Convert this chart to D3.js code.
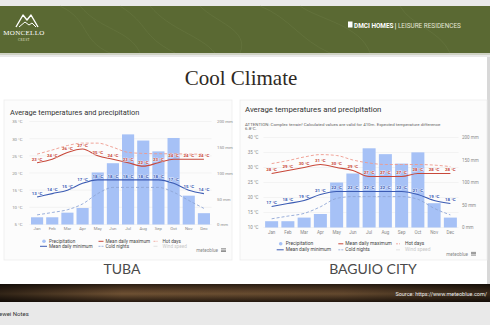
<!DOCTYPE html>
<html><head><meta charset="utf-8">
<script src="https://cdn.jsdelivr.net/npm/d3@7"></script>
<style>
html,body{margin:0;padding:0;background:#e8e8e8;}
svg{display:block;}
text{font-family:Roboto,"Noto Sans",sans-serif;}
</style></head>
<body>
<script>
// ---------- DATA ----------
const months = ["Jan","Feb","Mar","Apr","May","Jun","Jul","Aug","Sep","Oct","Nov","Dec"];

const tubaPrecip = [14,14,23,32,101,119,175,163,142,168,56,22];
const tubaMax    = [23,24,26,27,25,24,23,22,23,24,24,24];
const tubaMin    = [13,14,15,17,18,18,18,18,18,17,15,14];
const tubaHot    = [25.5,26.7,28,28.7,28.7,27.5,26,25.7,25.6,25.6,25.5,25.5];
const tubaCold   = [7.8,8.5,9.3,11,14,15.8,15.8,15.8,15.8,14.4,12,9.7];
const tubaTempTicks = [5,10,15,20,25,30,35];

const baguioPrecip = [14,14,22,30,100,120,176,163,142,167,54,22];
const baguioMax    = [28,29,30,31,30,29,27,27,27,28,28,28];
const baguioMin    = [17,18,19,21,22,22,22,22,22,21,19,18];
const baguioHot    = [31.3,32.3,33.5,34.3,34,32.5,31.5,31,31,31,30.8,30.3];
const baguioCold   = [12.9,13.8,14.7,16.9,19.7,20.3,20.3,20.3,20.3,19.4,16.4,14.2];
const baguioTempTicks = [10,15,20,25,30,35,40];

const precipTicks = [0,50,100,150,200];
const legendLabels = ["Precipitation","Mean daily minimum","Mean daily maximum","Cold nights","Hot days","Wind speed"];

// ---------- STYLE ----------
const C = {
  bar:"#a6c1f6", max:"#c8483a", min:"#3b5bb3", hot:"#ee9a8d", cold:"#8ea6d6",
  grid:"#ececec", tick:"#8a8a8a"
};

const svg = d3.select("body").append("svg").attr("width",490).attr("height",325);
const defs = svg.append("defs");
const wood = defs.append("linearGradient").attr("id","wood").attr("x1",0).attr("y1",0).attr("x2",0).attr("y2",1);
[["0%","#2b1e13"],["35%","#5a4029"],["55%","#6e5133"],["100%","#24180f"]].forEach(s=>wood.append("stop").attr("offset",s[0]).attr("stop-color",s[1]));
const woodH = defs.append("linearGradient").attr("id","woodh");
[["0%","#000",0.55],["25%","#000",0.0],["70%","#000",0.1],["100%","#000",0.5]].forEach(s=>woodH.append("stop").attr("offset",s[0]).attr("stop-color",s[1]).attr("stop-opacity",s[2]));

// page background
svg.append("rect").attr("width",490).attr("height",325).attr("fill","#e9e9e9");
// banner
svg.append("rect").attr("x",0).attr("y",6).attr("width",490).attr("height",47).attr("fill","#5a6933");
const tex = svg.append("g").attr("fill","none").attr("stroke","#71804a").attr("stroke-width",0.6).attr("opacity",0.6);
["M60,6 C90,20 80,40 110,53","M120,6 C150,25 140,35 175,53","M200,6 C215,22 250,30 240,53","M260,6 C290,18 300,40 330,53",
 "M150,6 C170,30 200,35 215,53","M300,6 C320,20 360,25 370,53","M80,6 C100,30 130,30 140,53","M400,6 C410,25 440,30 450,53"].forEach(p=>tex.append("path").attr("d",p));
svg.append("rect").attr("x",0).attr("y",53).attr("width",490).attr("height",2).attr("fill","#cfd2c4");

// logo
const logo = svg.append("g").attr("fill","none").attr("stroke","#fff").attr("stroke-width",1.4).attr("stroke-linejoin","round");
logo.append("path").attr("d","M16,27 L23,15 L27,20 L31,15 L38,27");
logo.append("path").attr("d","M19,27 L25,22 L29,25 L32,23 L36,27").attr("stroke-width",1);
svg.append("text").attr("x",24).attr("y",35).attr("text-anchor","middle").attr("fill","#fff")
  .style("font-family","'Liberation Serif',serif").style("font-size","7px").attr("letter-spacing",0.3).text("MONCELLO");
svg.append("text").attr("x",24).attr("y",41).attr("text-anchor","middle").attr("fill","#e8ead8")
  .style("font-family","'Liberation Serif',serif").style("font-size","3px").attr("letter-spacing",0.5).text("CREST");
svg.append("rect").attr("x",348).attr("y",21.5).attr("width",4.5).attr("height",6).attr("fill","#fff");
const dm = svg.append("text").attr("x",354).attr("y",27.5).attr("fill","#fff").style("font-size","6.4px");
dm.append("tspan").style("font-weight","bold").text("DMCI HOMES");
dm.append("tspan").attr("dx",1).style("font-size","8px").text("|");
dm.append("tspan").attr("dx",1.5).attr("fill","#e4e7d6").text("LEISURE RESIDENCES");

// white slide panel
svg.append("rect").attr("x",0).attr("y",57).attr("width",487).attr("height",227).attr("fill","#fff");
svg.append("rect").attr("x",487).attr("y",57).attr("width",3).attr("height",227).attr("fill","#d8d8d8");

svg.append("text").attr("x",241).attr("y",85).attr("text-anchor","middle").attr("fill","#2f2a24")
  .style("font-family","'Liberation Serif',serif").style("font-size","21px").text("Cool Climate");

// wood band
svg.append("rect").attr("x",0).attr("y",284).attr("width",490).attr("height",18).attr("fill","url(#wood)");
svg.append("rect").attr("x",0).attr("y",284).attr("width",490).attr("height",18).attr("fill","url(#woodh)");
svg.append("text").attr("x",487).attr("y",295.5).attr("text-anchor","end").attr("fill","#eee").style("font-size","5.5px")
  .text("Source: https://www.meteoblue.com/");
svg.append("text").attr("x",-1).attr("y",316).attr("fill","#333").style("font-size","6px").text("ewei Notes");

// ---------- CHART ----------
function drawChart(cfg){
  const g = svg.append("g");
  g.append("rect").attr("x",cfg.card[0]).attr("y",cfg.card[1]).attr("width",cfg.card[2]).attr("height",cfg.card[3])
    .attr("fill","#fcfcfc").attr("stroke","#ededed").attr("stroke-width",0.8);
  g.append("text").attr("x",cfg.titleX).attr("y",cfg.titleY).attr("fill","#333").style("font-size",cfg.titleSize+"px")
    .text("Average temperatures and precipitation");
  if(cfg.note){
    cfg.note.forEach((t,i)=>g.append("text").attr("x",cfg.titleX).attr("y",cfg.noteY+i*4.8).attr("fill","#666")
      .style("font-size","4.4px").text(t));
  }
  const x = d3.scaleBand().domain(months).range(cfg.xr).paddingInner(0.2).paddingOuter(0.1);
  const yT = d3.scaleLinear().domain(cfg.tDom).range(cfg.yr);
  const yP = d3.scaleLinear().domain([0,200]).range(cfg.yr);
  const cx = m => x(m) + x.bandwidth()/2;

  // grid
  g.append("g").selectAll("line").data(cfg.tTicks).join("line")
    .attr("x1",cfg.xr[0]).attr("x2",cfg.xr[1]).attr("y1",d=>yT(d)).attr("y2",d=>yT(d))
    .attr("stroke",C.grid).attr("stroke-width",0.6);

  // axes
  const aL = g.append("g").attr("transform",`translate(${cfg.leftX},0)`)
    .call(d3.axisLeft(yT).tickValues(cfg.tTicks).tickFormat(d=>d+" °C").tickSize(0).tickPadding(0));
  const aR = g.append("g").attr("transform",`translate(${cfg.rightX},0)`)
    .call(d3.axisRight(yP).tickValues(precipTicks).tickFormat(d=>d+" mm").tickSize(0).tickPadding(0));
  const aB = g.append("g").attr("transform",`translate(0,${cfg.monthY})`)
    .call(d3.axisBottom(x).tickSize(0).tickPadding(0));
  [aL,aR,aB].forEach(a=>{a.select(".domain").remove();
    a.selectAll("text").attr("fill",C.tick).style("font-size",cfg.tickSize+"px").style("font-family","Roboto,sans-serif");});

  // bars
  g.append("g").selectAll("rect").data(cfg.precip).join("rect")
    .attr("x",(d,i)=>x(months[i])).attr("width",x.bandwidth())
    .attr("y",d=>yP(d)).attr("height",d=>yP(0)-yP(d)).attr("fill",C.bar);

  const line = d3.line().x((d,i)=>cx(months[i])).y(d=>yT(d)).curve(d3.curveMonotoneX);
  g.append("path").datum(cfg.cold).attr("d",line).attr("fill","none").attr("stroke",C.cold).attr("stroke-width",0.9).attr("stroke-dasharray","3,2");
  g.append("path").datum(cfg.hot).attr("d",line).attr("fill","none").attr("stroke",C.hot).attr("stroke-width",0.9).attr("stroke-dasharray","3,2");
  g.append("path").datum(cfg.max).attr("d",line).attr("fill","none").attr("stroke",C.max).attr("stroke-width",1.1);
  g.append("path").datum(cfg.min).attr("d",line).attr("fill","none").attr("stroke",C.min).attr("stroke-width",1.1);

  [[cfg.max,C.max],[cfg.min,C.min]].forEach(([arr,col])=>{
    g.append("g").selectAll("text").data(arr).join("text")
      .attr("x",(d,i)=>cx(months[i])).attr("y",d=>yT(d)-2.2).attr("text-anchor","middle")
      .attr("fill",col).attr("stroke","#fff").attr("stroke-width",1).attr("stroke-opacity",0.7).attr("paint-order","stroke")
      .style("font-size","4.4px").style("font-weight","bold").text(d=>d+" °C");
  });

  // legend
  const L = cfg.legend, lg = g.append("g").style("font-size",L.fs+"px");
  const cols = [L.c1, L.c2, L.c3];
  const rows = [L.r1, L.r2];
  // Precipitation
  lg.append("circle").attr("cx",L.c1-5).attr("cy",rows[0]-1.5).attr("r",1.8).attr("fill",C.bar);
  // min
  lg.append("line").attr("x1",L.c1-9).attr("x2",L.c1-2).attr("y1",rows[1]-1.5).attr("y2",rows[1]-1.5).attr("stroke",C.min).attr("stroke-width",1);
  lg.append("line").attr("x1",L.c2-7).attr("x2",L.c2-2).attr("y1",rows[0]-1.5).attr("y2",rows[0]-1.5).attr("stroke",C.max).attr("stroke-width",1);
  lg.append("line").attr("x1",L.c2-7).attr("x2",L.c2-2).attr("y1",rows[1]-1.5).attr("y2",rows[1]-1.5).attr("stroke",C.cold).attr("stroke-width",0.8).attr("stroke-dasharray","2,1");
  lg.append("line").attr("x1",L.c3-9).attr("x2",L.c3-5).attr("y1",rows[0]-1.5).attr("y2",rows[0]-1.5).attr("stroke",C.hot).attr("stroke-width",0.8).attr("stroke-dasharray","2,1");
  lg.append("line").attr("x1",L.c3-9).attr("x2",L.c3-5).attr("y1",rows[1]-1.5).attr("y2",rows[1]-1.5).attr("stroke","#ddd").attr("stroke-width",0.8);
  const pos = [[0,0],[0,1],[1,0],[1,1],[2,0],[2,1]];
  legendLabels.forEach((t,i)=>lg.append("text").attr("x",cols[pos[i][0]]).attr("y",rows[pos[i][1]])
    .attr("fill", i===5 ? "#c8c8c8" : "#444").text(t));
  // meteoblue mark
  g.append("text").attr("x",L.mbX).attr("y",L.mbY).attr("text-anchor","end").attr("fill","#888").style("font-size","4.6px").text("meteoblue");
  [0,1.4,2.8].forEach(o=>g.append("rect").attr("x",L.mbX+3).attr("y",L.mbY-3.6+o).attr("width",5).attr("height",0.8).attr("fill","#777"));

  // city name
  g.append("text").attr("x",cfg.cityX).attr("y",cfg.cityY).attr("text-anchor","middle").attr("fill","#4a4a4a")
    .style("font-family","Lato,'Open Sans',sans-serif").style("font-size","14px").text(cfg.city);
}

drawChart({
  card:[4,100,228,160], titleX:10, titleY:114.5, titleSize:7.4,
  xr:[29.5,211.5], tDom:[5,35], yr:[224.5,121.5], tTicks:tubaTempTicks,
  leftX:22.5, rightX:217, monthY:227, tickSize:4.3,
  precip:tubaPrecip, max:tubaMax, min:tubaMin, hot:tubaHot, cold:tubaCold,
  legend:{fs:4.7, c1:49, c2:105.5, c3:162.5, r1:242.8, r2:247.8, mbX:218, mbY:252},
  city:"TUBA", cityX:122, cityY:274
});

drawChart({
  card:[240,100,247,160], titleX:245, titleY:111.5, titleSize:7.8,
  note:["ATTENTION: Complex terrain! Calculated values are valid for 410m. Expected temperature difference","6.8°C."], noteY:125.5,
  xr:[263.5,458.5], tDom:[10,40], yr:[227.5,137.5], tTicks:baguioTempTicks,
  leftX:258.5, rightX:462, monthY:230.5, tickSize:4.5,
  precip:baguioPrecip, max:baguioMax, min:baguioMin, hot:baguioHot, cold:baguioCold,
  legend:{fs:4.9, c1:285.7, c2:345.3, c3:405, r1:245.3, r2:251.3, mbX:468, mbY:255.5},
  city:"BAGUIO CITY", cityX:373, cityY:274
});
</script>
</body></html>
